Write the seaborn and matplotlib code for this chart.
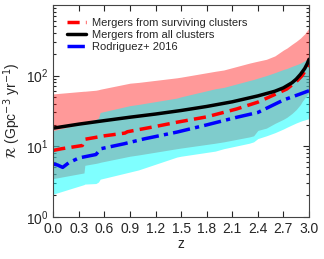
import numpy as np
import pandas as pd
import matplotlib
matplotlib.use("Agg")
import matplotlib.pyplot as plt
import seaborn as sns

# merger rate vs redshift
z_all = [0, 0.3, 0.6, 0.9, 1.2, 1.5, 1.8, 2.1, 2.4, 2.6, 2.7, 2.8, 2.85, 2.9, 2.95, 2.98, 3.0]
rate_all = [18, 20.5, 23, 25.7, 28.5, 32, 36.5, 42.5, 51.5, 60, 67, 79, 89, 104, 126, 148, 170]

z_surv = [0, 0.1, 0.2, 0.34, 0.37, 0.6, 0.84, 0.87, 1.2, 1.45, 1.8, 2.15, 2.4, 2.6, 2.74, 2.85, 2.92, 2.97, 3.0]
rate_surv = [8.7, 9.2, 9.6, 10.2, 12.5, 14, 15.3, 16, 19, 21.8, 26, 33.6, 42, 54, 64.5, 82, 100, 125, 145]

z_rod = [0, 0.05, 0.11, 0.18, 0.3, 0.45, 0.5, 0.56, 0.83, 1.07, 1.45, 1.8, 2.15, 2.4, 2.7, 2.9, 3.0]
rate_rod = [5.6, 5.4, 5.0, 5.8, 6.8, 7.4, 7.6, 9.2, 10.8, 12.7, 15.8, 20, 25.6, 30, 45, 55, 61]

# shaded ranges
z_band = [0, 0.36, 0.37, 0.5, 0.53, 0.55, 0.9, 1.0, 1.45, 1.5, 1.9, 2.0, 2.3, 2.35, 2.4, 2.5, 2.6, 2.7, 2.74, 2.8, 2.85, 2.9, 2.92, 2.95, 3.0]
surv_hi = [55, 60, 60, 62, 63, 64, 78, 80, 93, 95, 115, 120, 150, 155, 160, 170, 190, 230, 245, 277, 305, 340, 360, 390, 472]
surv_lo = [3.47, 4.17, 5.35, 5.7, 5.8, 5.9, 7.2, 7.5, 9.2, 9.4, 11, 11.5, 13.5, 14, 16.7, 18, 21, 24, 25.6, 29, 33, 39, 43, 48, 57.5]
rod_hi = [16.6, 21, 21.5, 24, 25, 30, 37.5, 39, 48, 50, 65, 68, 85, 88, 92, 100, 110, 122, 126, 135, 142, 150, 155, 162, 179]
rod_lo = [2.09, 2.85, 2.9, 2.95, 3.1, 3.4, 4.3, 4.6, 7.0, 7.2, 8.5, 9.2, 11, 11.5, 12.8, 14, 15.5, 17.5, 18.5, 20, 21.3, 22.5, 23, 23.5, 24.6]

band = pd.DataFrame({"z": z_band, "surv_hi": surv_hi, "surv_lo": surv_lo,
                     "rod_hi": rod_hi, "rod_lo": rod_lo})

sns.set_style("ticks", {"xtick.direction": "in", "ytick.direction": "in"})
plt.rcParams["font.family"] = ["Liberation Sans", "DejaVu Sans"]
plt.rcParams["mathtext.fontset"] = "dejavusans"

fig = plt.figure(figsize=(3.24, 2.59), dpi=100)
ax = fig.add_axes([0.1645, 0.1633, 0.7892, 0.8174])

ax.fill_between(band.z, band.surv_lo, band.surv_hi, color="red", alpha=0.4, lw=0)
ax.fill_between(band.z, band.rod_lo, band.rod_hi, color="cyan", alpha=0.5, lw=0)

sns.lineplot(x=z_surv, y=rate_surv, ax=ax, color="red", lw=2.5,
             linestyle=(0, (3.5, 1.8)), label="Mergers from surviving clusters")
sns.lineplot(x=z_all, y=rate_all, ax=ax, color="black", lw=2.5,
             label="Mergers from all clusters")
sns.lineplot(x=z_rod, y=rate_rod, ax=ax, color="blue", lw=2.5,
             linestyle=(0, (5, 1.5, 1.2, 1.5)), label="Rodriguez+ 2016")

ax.set_yscale("log")
ax.set_xlim(0, 3.0)
ax.set_ylim(1, 1000)
ax.set_xticks(np.arange(0, 3.01, 0.3))
ax.set_xticklabels([f"{t:.1f}" for t in np.arange(0, 3.01, 0.3)])
ax.set_yticks([1, 10, 100])
ax.tick_params(which="both", top=True, right=True, labelsize=10, width=0.8)
ax.tick_params(which="major", length=4)
ax.tick_params(which="minor", length=2)
ax.set_xlabel("z", fontsize=10, labelpad=1)
ax.set_ylabel(r"$\mathcal{R}$ (Gpc$^{-3}$ yr$^{-1}$)", fontsize=10, labelpad=2)
for s in ax.spines.values():
    s.set_color("#444444")

ax.legend(loc="upper left", frameon=False, fontsize=8, handlelength=1.7,
          handletextpad=0.6, borderaxespad=0.8, borderpad=0.4, labelspacing=0.15)

fig.savefig("out.png", dpi=100)
